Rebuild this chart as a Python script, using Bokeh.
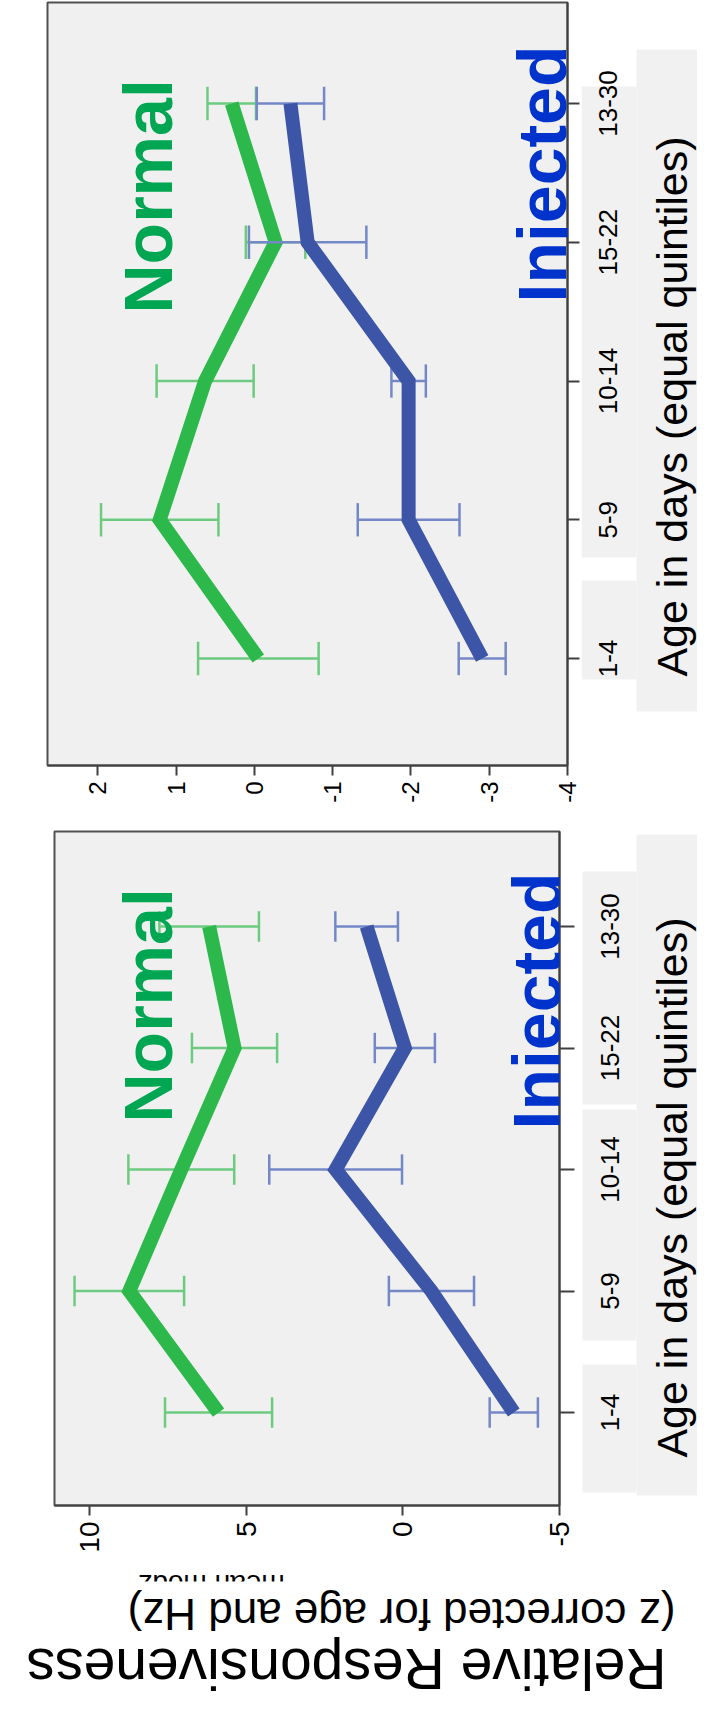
import math
from bokeh.plotting import figure
from bokeh.models import Range1d, FixedTicker, Label
from bokeh.layouts import column, row
from bokeh.core.properties import value
from bokeh.embed import file_html
from bokeh.resources import INLINE

# ---------------- data ----------------
categories = ["1-4", "5-9", "10-14", "15-22", "13-30"]
cat_pos = [1, 2, 3, 4, 5]

# lower panel (mean modz)
left_normal_mean = [5.89, 8.74, 7.08, 5.38, 6.19]
left_normal_err = [1.71, 1.75, 1.69, 1.36, 1.59]
left_injected_mean = [-3.54, -0.91, 2.15, -0.06, 1.16]
left_injected_err = [0.77, 1.36, 2.12, 0.96, 1.00]
left_ticks = [10, 5, 0, -5]
left_tick_labels = ["10", "5", "0", "-5"]

# upper panel
right_normal_mean = [-0.05, 1.21, 0.63, -0.27, 0.29]
right_normal_err = [0.77, 0.75, 0.62, 0.38, 0.31]
right_injected_mean = [-2.91, -1.97, -1.97, -0.68, -0.46]
right_injected_err = [0.30, 0.65, 0.22, 0.75, 0.43]
right_ticks = [2, 1, 0, -1, -2, -3, -4]
right_tick_labels = ["2", "1", "0", "-1", "-2", "-3", "-4"]

series_names = ["Normal", "Injected"]
axis_title = "Age in days (equal quintiles)"
y_title_1 = "Relative Responsiveness"
y_title_2 = "(z corrected for age and Hz)"
y_title_spss = "mean modz"

# ---------------- styles ----------------
FONT = "Liberation Sans"
BG = "#F0F0F0"
BOX = "#F1F1F1"
GREEN_LINE = "#2DB84B"
GREEN_BAR = "#6DCB80"
BLUE_LINE = "#3C55A6"
BLUE_BAR = "#7488C8"
GREEN_TEXT = "#00A651"
BLUE_TEXT = "#0033CC"
SIDE_X0, SIDE_X1 = 589, 705      # page columns of the side strip
MAIN_W = SIDE_X0 - 8
SIDE_W = SIDE_X1 - SIDE_X0


class Mapper:
    """page-pixel -> data conversion for placing decorations"""
    def __init__(self, fl, fr, ft, fb, xr, yr):
        self.fl, self.fr, self.ft, self.fb = fl, fr, ft, fb
        self.xr, self.yr = xr, yr

    def x(self, px):
        x0, x1 = self.xr
        return x0 + (px - self.fl) / (self.fr - self.fl) * (x1 - x0)

    def y(self, py):
        y0, y1 = self.yr
        return y0 + (self.fb - py) / (self.fb - self.ft) * (y1 - y0)


def make_panel(height, borders, xr, yr, ticks, tick_labels, tick_size, tick_out_cat,
               n_mean, n_err, i_mean, i_err, cap):
    bl, br, bt, bb = borders
    p = figure(width=MAIN_W, height=height,
               x_range=Range1d(*xr), y_range=Range1d(*yr),
               y_axis_location="right", toolbar_location=None,
               output_backend="svg",
               min_border_left=bl, min_border_right=br,
               min_border_top=bt, min_border_bottom=bb,
               background_fill_color=BG, border_fill_color="white",
               outline_line_color="#505050", outline_line_width=2)
    p.xgrid.visible = False
    p.ygrid.visible = False

    xa = p.xaxis[0]
    xa.ticker = FixedTicker(ticks=ticks)
    xa.major_label_overrides = {t: s for t, s in zip(ticks, tick_labels)}
    xa.major_label_orientation = math.pi / 2
    xa.major_tick_out = 10
    xa.major_tick_in = 0
    xa.minor_tick_out = 0
    xa.minor_tick_in = 0
    xa.axis_line_color = "#404040"
    xa.axis_line_width = 2
    xa.major_tick_line_color = "#404040"
    xa.major_tick_line_width = 2
    xa.major_label_text_font = FONT
    xa.major_label_text_font_size = tick_size
    xa.major_label_text_color = "black"
    xa.major_label_standoff = 6

    ya = p.yaxis[0]
    ya.ticker = FixedTicker(ticks=cat_pos)
    ya.major_label_overrides = {c: "" for c in cat_pos}
    ya.major_label_standoff = 0
    ya.major_tick_out = tick_out_cat
    ya.major_tick_in = 0
    ya.minor_tick_out = 0
    ya.minor_tick_in = 0
    ya.axis_line_color = "#404040"
    ya.axis_line_width = 2
    ya.major_tick_line_color = "#404040"
    ya.major_tick_line_width = 2

    for mean, err, bar_c, line_c in ((n_mean, n_err, GREEN_BAR, GREEN_LINE),
                                     (i_mean, i_err, BLUE_BAR, BLUE_LINE)):
        lo = [m - e for m, e in zip(mean, err)]
        hi = [m + e for m, e in zip(mean, err)]
        ylo = [c - cap for c in cat_pos]
        yhi = [c + cap for c in cat_pos]
        p.segment(x0=lo, y0=cat_pos, x1=hi, y1=cat_pos, line_color=bar_c, line_width=2.5)
        p.segment(x0=lo, y0=ylo, x1=lo, y1=yhi, line_color=bar_c, line_width=2.5)
        p.segment(x0=hi, y0=ylo, x1=hi, y1=yhi, line_color=bar_c, line_width=2.5)
        p.line(x=mean, y=cat_pos, line_color=line_c, line_width=14,
               line_join="miter", line_cap="butt")
    return p


def make_side(main, height, bt, bb, m, boxes, label_x, title_y):
    s = figure(width=SIDE_W, height=height,
               x_range=Range1d(SIDE_X0, SIDE_X1), y_range=main.y_range,
               x_axis_location=None, y_axis_location=None,
               toolbar_location=None, output_backend="svg",
               min_border_left=0, min_border_right=0,
               min_border_top=bt, min_border_bottom=bb,
               background_fill_color="white", border_fill_color="white",
               outline_line_color=None)
    s.grid.visible = False
    s.quad(left=[b[0] for b in boxes], right=[b[1] for b in boxes],
           top=[m.y(b[2]) for b in boxes], bottom=[m.y(b[3]) for b in boxes],
           fill_color=BOX, line_color=None)
    s.text(x=[label_x] * len(categories), y=cat_pos, text=categories,
           angle=math.pi / 2, text_align="center", text_baseline="middle",
           text_font=value(FONT), text_font_size="26px", text_color="black")
    s.text(x=[679], y=[m.y(title_y)], text=[axis_title], angle=math.pi / 2,
           text_align="center", text_baseline="middle",
           text_font=value(FONT), text_font_size="43px", text_color="black")
    return s


def label(p, m, px, py, text, color):
    p.add_layout(Label(x=m.x(px), y=m.y(py), text=text, angle=math.pi / 2,
                       text_font=FONT, text_font_size="68px", text_color=color,
                       text_font_style="bold",
                       text_align="left", text_baseline="alphabetic"))


# ---------------- upper panel ----------------
R_XR = (2.644, -4.0)
R_YR = (0.229, 5.728)
top = make_panel(812, (47, 14, 2, 47), R_XR, R_YR, right_ticks, right_tick_labels,
                 "24px", 12, right_normal_mean, right_normal_err,
                 right_injected_mean, right_injected_err, 0.12)
mt = Mapper(55, 575, 10, 773, R_XR, R_YR)       # page coords of the upper frame
label(top, mt, 155, 321, series_names[0], GREEN_TEXT)
label(top, mt, 549, 310, series_names[1], BLUE_TEXT)
top_side = make_side(top, 812, 2, 47, mt,
                     [(644, 720, 57, 719), (589, 644, 94, 565), (589, 644, 588, 687)],
                     615, 414)

# ---------------- lower panel ----------------
L_XR = (11.13, -5.0)
L_YR = (0.235, 5.782)
bot = make_panel(745, (54, 22, 19, 52), L_XR, L_YR, left_ticks, left_tick_labels,
                 "28px", 15, left_normal_mean, left_normal_err,
                 left_injected_mean, left_injected_err, 0.125)
mb = Mapper(62, 567, 839, 1513, L_XR, L_YR)     # page coords of the lower frame
label(bot, mb, 155, 1130, series_names[0], GREEN_TEXT)
label(bot, mb, 544, 1137, series_names[1], BLUE_TEXT)
bot_side = make_side(bot, 745, 19, 52, mb,
                     [(644, 720, 842, 1503), (590, 644, 879, 1112),
                      (590, 644, 1117, 1348), (590, 644, 1372, 1500)],
                     617, 1195)

# ---------------- value-axis title (upside down, as in the source) ----------------
titles = figure(width=697, height=146, x_range=Range1d(8, 705), y_range=Range1d(1711, 1565),
                x_axis_location=None, y_axis_location=None, toolbar_location=None,
                output_backend="svg", min_border=0, outline_line_color=None,
                background_fill_color="white", border_fill_color="white")
titles.grid.visible = False
titles.text(x=[219], y=[1592], text=[y_title_spss], angle=math.pi,
            text_align="center", text_baseline="middle",
            text_font=value(FONT), text_font_size="28px", text_color="black")
titles.quad(left=[120], right=[330], top=[1589], bottom=[1606],
            fill_color="white", line_color=None)
titles.text(x=[409], y=[1622], text=[y_title_2], angle=math.pi,
            text_align="center", text_baseline="middle",
            text_font=value(FONT), text_font_size="44px", text_color="black")
titles.text(x=[354], y=[1676], text=[y_title_1], angle=math.pi,
            text_align="center", text_baseline="middle",
            text_font=value(FONT), text_font_size="57px", text_color="black")

layout = column(row(top, top_side, spacing=0), row(bot, bot_side, spacing=0), titles,
                spacing=0)
open("out.html", "w").write(file_html(layout, INLINE))
